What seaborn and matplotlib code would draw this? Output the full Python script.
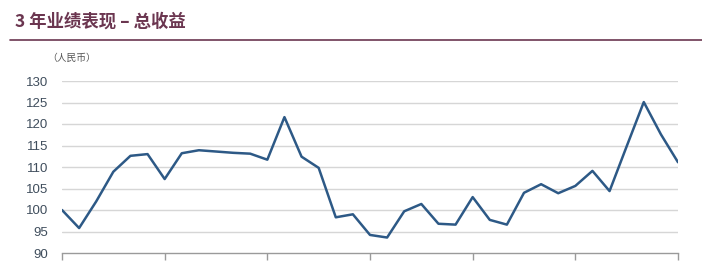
import matplotlib
matplotlib.use("Agg")
import matplotlib.pyplot as plt
import seaborn as sns
import pandas as pd

months = list(range(37))
values = [100.0, 95.8, 102.0, 108.9, 112.6, 113.0, 107.2, 113.2, 113.9, 113.6, 113.3, 113.1,
          111.7, 121.6, 112.4, 109.8, 98.3, 99.0, 94.2, 93.6, 99.7, 101.4, 96.8, 96.6,
          103.0, 97.7, 96.6, 104.0, 106.0, 103.9, 105.6, 109.1, 104.4, 114.8, 125.1, 117.6, 111.1]
yticks = [90, 95, 100, 105, 110, 115, 120, 125, 130]
xticks = [0, 6, 12, 18, 24, 30, 36]
title = "3 年业绩表现 – 总收益"
unit = "（人民币）"

df = pd.DataFrame({"month": months, "value": values})

sns.set_theme(style="white")
plt.rcParams['font.family'] = ['Liberation Sans', 'Noto Sans CJK SC', 'DejaVu Sans']

fig = plt.figure(figsize=(7.02, 2.62), dpi=100)
ax = fig.add_axes([62/702, 1-253/262, (678-62)/702, (253-81)/262])

sns.lineplot(data=df, x="month", y="value", ax=ax, color="#2d5986", linewidth=1.8)

ax.set_xlim(0, 36)
ax.set_ylim(90, 130)
ax.set_yticks(yticks)
ax.set_xticks(xticks)
ax.set_xticklabels([])
ax.set_xlabel("")
ax.set_ylabel("")
for y in yticks[1:]:
    ax.axhline(y, color="#d6d6d6", linewidth=1.0, zorder=0)
for s in ["top", "right", "left"]:
    ax.spines[s].set_visible(False)
ax.spines["bottom"].set_color("#9a9a9a")
ax.spines["bottom"].set_linewidth(1.0)
ax.tick_params(axis="x", direction="out", length=5, width=1, color="#9a9a9a", bottom=True)
ax.tick_params(axis="y", length=0, pad=10, labelsize=9.5, labelcolor="#3f4d5c")
ax.grid(False)

fig.text(15/702, 1-22/262, title, fontsize=12.5, fontweight="bold", color="#6b3650",
         family=['Noto Sans CJK SC', 'DejaVu Sans'], va="center", ha="left")
fig.add_artist(plt.Line2D([10/702, 1.0], [1-40/262, 1-40/262], color="#6b3650", linewidth=1.2))
fig.text(47/702, 1-58/262, unit, fontsize=7, color="#555555",
         family=['Noto Sans CJK SC', 'DejaVu Sans'], va="center", ha="left")

fig.savefig("out.png", dpi=100)
